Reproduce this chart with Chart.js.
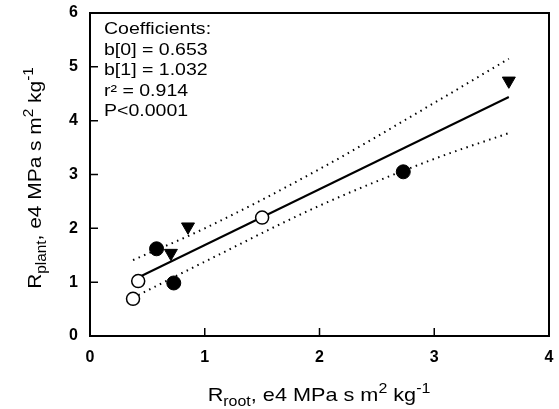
<!DOCTYPE html>
<html>
<head>
<meta charset="utf-8">
<script src="https://cdn.jsdelivr.net/npm/chart.js@4.4.0/dist/chart.umd.min.js"></script>
<style>
  html, body { margin: 0; padding: 0; background: #fff; }
  #wrap { width: 559px; height: 409px; }
</style>
</head>
<body>
<div id="wrap"><canvas id="rootChart" width="559" height="409"></canvas></div>
<script>
// values (x = R root, y = R plant, both e4 MPa s m2 kg-1)
const openX = [0.375, 0.42, 1.5];
const openY = [0.69, 1.02, 2.2];
const filledX = [0.58, 0.73, 2.73];
const filledY = [1.62, 0.985, 3.05];
const triX = [0.705, 0.854, 3.65];
const triY = [1.54, 2.03, 4.74];

// fitted line and dotted 95% bands
const fitX = [0.375, 3.65];
const fitY = [1.04, 4.44];
const bandX = [0.375, 1, 2, 3, 3.65];
const upperY = [1.41, 2.0, 3.1, 4.33, 5.15];
const lowerY = [0.71, 1.38, 2.42, 3.29, 3.77];

const xTicks = [0, 1, 2, 3, 4];
const yTicks = [0, 1, 2, 3, 4, 5, 6];
const coefLines = ["Coefficients:", "b[0] = 0.653", "b[1] = 1.032", "r² = 0.914", "P<0.0001"];

const pts = (xs, ys) => xs.map((x, i) => ({ x: x, y: ys[i] }));
const FONT = "'Liberation Sans', Arial, sans-serif";

// draws mixed normal/sub/sup text runs, centred on 0,0
function drawRuns(ctx, runs) {
  let total = 0;
  runs.forEach(r => {
    ctx.font = (r.kind ? "14px " : "19px ") + FONT;
    r.w = ctx.measureText(r.t).width;
    total += r.w;
  });
  let x = -total / 2;
  runs.forEach(r => {
    ctx.font = (r.kind ? "14px " : "19px ") + FONT;
    let dy = 0;
    if (r.kind === "sub") dy = 5;
    if (r.kind === "sup") dy = -8;
    ctx.fillText(r.t, x, dy);
    x += r.w;
  });
}

// keep the plot box where the scan has it
function noScalePadding(s) {
  s.paddingTop = 0;
  s.paddingBottom = 0;
  s.paddingLeft = 0;
  s.paddingRight = 0;
}

const framePlugin = {
  id: "frame",
  beforeDatasetsDraw(chart) {
    const { ctx, chartArea: a, scales } = chart;
    ctx.save();
    ctx.strokeStyle = "#000";
    ctx.lineWidth = 2;
    ctx.strokeRect(a.left, a.top, a.right - a.left, a.bottom - a.top);
    // inward tick marks
    ctx.lineWidth = 1.5;
    ctx.beginPath();
    xTicks.slice(1, -1).forEach(v => {
      const px = scales.x.getPixelForValue(v);
      ctx.moveTo(px, a.bottom);
      ctx.lineTo(px, a.bottom - 8);
    });
    yTicks.slice(1, -1).forEach(v => {
      const py = scales.y.getPixelForValue(v);
      ctx.moveTo(a.left, py);
      ctx.lineTo(a.left + 8, py);
    });
    ctx.stroke();
    ctx.restore();
  },
  afterDraw(chart) {
    const { ctx, chartArea: a } = chart;
    ctx.save();
    ctx.fillStyle = "#000";
    ctx.textBaseline = "alphabetic";
    ctx.textAlign = "left";

    // axis titles (the scanned lettering is a little wider than Arial)
    ctx.save();
    ctx.translate(319, 401);
    ctx.scale(1.14, 1);
    drawRuns(ctx, [
      { t: "R" }, { t: "root", kind: "sub" }, { t: ", e4 MPa s m" },
      { t: "2", kind: "sup" }, { t: " kg" }, { t: "-1", kind: "sup" }
    ]);
    ctx.restore();

    ctx.save();
    ctx.translate(41, 178);
    ctx.rotate(-Math.PI / 2);
    ctx.scale(1.1, 1);
    drawRuns(ctx, [
      { t: "R" }, { t: "plant", kind: "sub" }, { t: ", e4 MPa s m" },
      { t: "2", kind: "sup" }, { t: " kg" }, { t: "-1", kind: "sup" }
    ]);
    ctx.restore();

    // regression coefficients
    ctx.font = "16px " + FONT;
    coefLines.forEach((line, i) => {
      ctx.save();
      ctx.translate(a.left + 14, a.top + 21 + i * 20.5);
      ctx.scale(1.22, 1);
      ctx.fillText(line, 0, 0);
      ctx.restore();
    });
    ctx.restore();
  }
};

new Chart(document.getElementById("rootChart"), {
  type: "scatter",
  data: {
    datasets: [
      {
        label: "open",
        data: pts(openX, openY),
        pointStyle: "circle",
        pointRadius: 6.5,
        backgroundColor: "#fff",
        borderColor: "#000",
        borderWidth: 1.5,
        order: 1
      },
      {
        label: "filled",
        data: pts(filledX, filledY),
        pointStyle: "circle",
        pointRadius: 7,
        backgroundColor: "#000",
        borderColor: "#000",
        borderWidth: 1,
        order: 1
      },
      {
        label: "triangles",
        data: pts(triX, triY),
        pointStyle: "triangle",
        rotation: 180,
        pointRadius: 7.5,
        backgroundColor: "#000",
        borderColor: "#000",
        borderWidth: 1,
        order: 1
      },
      {
        type: "line",
        label: "fit",
        data: pts(fitX, fitY),
        borderColor: "#000",
        borderWidth: 2,
        pointRadius: 0,
        fill: false,
        order: 2
      },
      {
        type: "line",
        label: "upper",
        data: pts(bandX, upperY),
        borderColor: "#000",
        borderWidth: 2,
        borderDash: [1.5, 4.5],
        pointRadius: 0,
        cubicInterpolationMode: "monotone",
        fill: false,
        order: 3
      },
      {
        type: "line",
        label: "lower",
        data: pts(bandX, lowerY),
        borderColor: "#000",
        borderWidth: 2,
        borderDash: [1.5, 4.5],
        pointRadius: 0,
        cubicInterpolationMode: "monotone",
        fill: false,
        order: 3
      }
    ]
  },
  options: {
    responsive: false,
    animation: false,
    layout: { padding: { top: 13, right: 10, left: 0, bottom: 0 } },
    plugins: { legend: { display: false }, tooltip: { enabled: false } },
    scales: {
      x: {
        type: "linear",
        min: 0,
        max: 4,
        afterFit: s => { s.height = 73; noScalePadding(s); },
        afterBuildTicks: s => { s.ticks = xTicks.map(v => ({ value: v })); },
        grid: { display: false, drawTicks: false },
        border: { display: false },
        ticks: { color: "#000", padding: 12, font: { family: FONT, size: 16, weight: "bold" } }
      },
      y: {
        type: "linear",
        min: 0,
        max: 6,
        afterFit: s => { s.width = 90; noScalePadding(s); },
        afterBuildTicks: s => { s.ticks = yTicks.map(v => ({ value: v })); },
        grid: { display: false, drawTicks: false },
        border: { display: false },
        ticks: { color: "#000", padding: 12, font: { family: FONT, size: 16, weight: "bold" } }
      }
    }
  },
  plugins: [framePlugin]
});
</script>
</body>
</html>
